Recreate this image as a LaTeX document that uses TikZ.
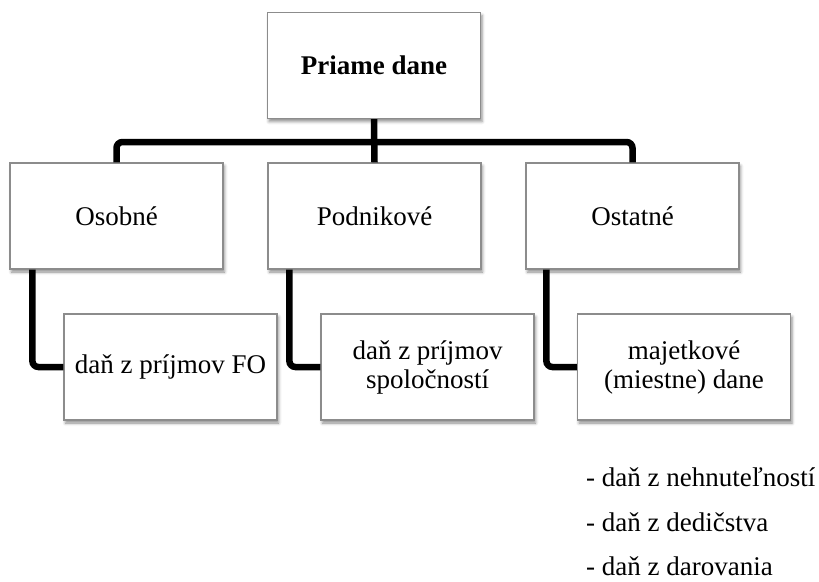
\documentclass[tikz,border=0pt]{standalone}
\usepackage{fontspec}
\setmainfont{Liberation Serif}
\usetikzlibrary{shadows.blur,calc}
\begin{document}
\begin{tikzpicture}[x=1pt,y=-1pt,
  box/.style={draw=black!45, line width=1.2pt, fill=white, minimum width=213pt, minimum height=106pt,
    inner sep=2pt, align=center, font=\fontsize{27}{29}\selectfont,
    blur shadow={shadow xshift=1.5pt, shadow yshift=-3pt, shadow blur radius=3pt, shadow opacity=45}},
  conn/.style={line width=6.5pt, black, rounded corners=6pt},
  item/.style={anchor=base west, inner sep=0pt, font=\fontsize{27}{29}\selectfont}]
\useasboundingbox (0,0) rectangle (819,581);
% nodes
\node[box, font=\fontsize{27}{29}\selectfont\bfseries] (t) at (374,65.5) {Priame dane};
\node[box] (a) at (116.5,216) {Osobné};
\node[box] (b) at (374.5,216) {Podnikové};
\node[box] (c) at (632.5,216) {Ostatné};
\node[box] (a2) at (170.5,367) {daň z príjmov FO};
\node[box] (b2) at (427.5,367) {daň z príjmov\\spoločností};
\node[box] (c2) at (684,367) {majetkové\\(miestne) dane};
\coordinate (bar) at (375,142);
\node[item] (l1) at (586,486) {- daň z nehnuteľností};
\node[item] (l2) at (586,531) {- daň z dedičstva};
\node[item] (l3) at (586,575) {- daň z darovania};
% connectors
\draw[conn] (a.north) |- (bar) -| (c.north);
\draw[conn] (t.south) -- (b.north);
\draw[conn] ($(a.south west)+(23,0)$) |- (a2.west);
\draw[conn] ($(b.south west)+(22,0)$) |- (b2.west);
\draw[conn] ($(c.south west)+(21,0)$) |- (c2.west);
\end{tikzpicture}
\end{document}
